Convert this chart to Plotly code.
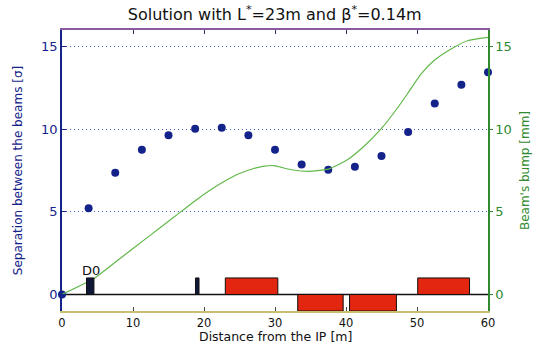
import plotly.graph_objects as go

# ---- data ----
sep_x = [0, 3.75, 7.5, 11.25, 15, 18.75, 22.5, 26.25, 30, 33.75, 37.5, 41.25, 45, 48.75, 52.5, 56.25, 60]
sep_y = [0, 5.22, 7.37, 8.75, 9.63, 10.03, 10.09, 9.63, 8.75, 7.87, 7.55, 7.72, 8.38, 9.83, 11.55, 12.69, 13.45]

bump_x = [0, 4.5, 8, 12, 16, 19, 21, 23, 25, 27, 28.5, 29.8, 30.8, 32.5, 34.7, 36,
          37.6, 40.2, 42.5, 44.9, 47.2, 48.9, 50.5, 52.4, 54.8, 57.1, 60]
bump_y = [0, 0.96, 2.12, 3.44, 4.76, 5.75, 6.35, 6.88, 7.32, 7.62, 7.76, 7.8, 7.7, 7.53, 7.45, 7.49,
          7.6, 8.15, 8.95, 10.0, 11.25, 12.3, 13.3, 14.15, 14.85, 15.35, 15.55]

mag_x0 = [3.45, 18.8, 23.0, 33.2, 40.5, 50.1]
mag_x1 = [4.5, 19.3, 30.4, 39.6, 47.1, 57.4]
mag_y0 = [0, 0, 0, -1, -1, 0]
mag_y1 = [1, 1, 1, 0, 0, 1]
mag_col = ["#101838", "#101838", "#e3260f", "#e3260f", "#e3260f", "#e3260f"]

x_ticks = [0, 10, 20, 30, 40, 50, 60]
y_ticks = [0, 5, 10, 15]

NAVY = "#14238a"
GREEN = "#2f8a2f"
FONT = "DejaVu Sans, Liberation Sans, Arial, sans-serif"

fig = go.Figure()

# magnets
for x0, x1, y0, y1, c in zip(mag_x0, mag_x1, mag_y0, mag_y1, mag_col):
    fig.add_shape(type="rect", xref="x", yref="y", x0=x0, x1=x1, y0=y0, y1=y1,
                  fillcolor=c, line=dict(color="#111111", width=1), layer="above")

# beam line
fig.add_trace(go.Scatter(x=[x_ticks[0], x_ticks[-1]], y=[0, 0], mode="lines",
                         line=dict(color="#111111", width=1.5), showlegend=False, hoverinfo="skip"))

# bump curve (right axis)
fig.add_trace(go.Scatter(x=bump_x, y=bump_y, mode="lines", yaxis="y2",
                         line=dict(color="#62b84a", width=1.2, shape="spline", smoothing=0.5),
                         showlegend=False))

# separation dots
fig.add_trace(go.Scatter(x=sep_x, y=sep_y, mode="markers", cliponaxis=False,
                         marker=dict(color=NAVY, size=8), showlegend=False))

fig.add_annotation(x=4.1, y=1.0, xref="x", yref="y", text="D0", showarrow=False,
                   yanchor="bottom", yshift=-2, font=dict(family=FONT, size=13, color="#111111"))

# x-axis title as annotation for exact placement
fig.add_annotation(x=0.5, y=0, xref="paper", yref="paper", text="Distance from the IP [m]",
                   showarrow=False, yanchor="top", yshift=-17, borderpad=0,
                   font=dict(family=FONT, size=12.5, color="#111111"))

fig.update_layout(
    width=544, height=344,
    margin=dict(l=62, r=56, t=30, b=33),
    paper_bgcolor="white", plot_bgcolor="white",
    font=dict(family=FONT, size=12, color="#111111"),
    title=dict(text="Solution with L<sup>*</sup>=23m and β<sup>*</sup>=0.14m",
               x=0.505, xanchor="center", y=1 - 14 / 344, yref="container", yanchor="middle",
               font=dict(family=FONT, size=16, color="#111111")),
    xaxis=dict(range=[0, 60], tickvals=x_ticks, showgrid=False, zeroline=False, automargin=False,
               showline=True, linecolor="#c8c070", linewidth=1.5,
               ticks="inside", ticklen=4, tickcolor="#444444",
               tickfont=dict(size=11.5, color="#111111")),
    xaxis2=dict(range=[0, 60], tickvals=x_ticks, overlaying="x", side="top", matches="x",
                showgrid=False, zeroline=False, showline=True, linecolor="#8a5aa0", linewidth=1.5,
                automargin=False,
                ticks="inside", ticklen=4, tickcolor="#333366", showticklabels=False),
    yaxis=dict(range=[-1, 16], tickvals=y_ticks, zeroline=False, automargin=False,
               showgrid=True, gridcolor="#4060d0", griddash="1px,3px", gridwidth=1,
               showline=True, linecolor=NAVY, linewidth=1.5,
               ticks="inside", ticklen=4, tickcolor=NAVY,
               tickfont=dict(size=13, color=NAVY),
               title=dict(text="Separation between the beams [σ]", standoff=16,
                          font=dict(size=12, color=NAVY))),
    yaxis2=dict(range=[-1, 16], tickvals=y_ticks, overlaying="y", side="right",
                zeroline=False, showgrid=False, automargin=False,
                showline=True, linecolor=GREEN, linewidth=1.5,
                ticks="outside", ticklen=3, tickcolor=GREEN,
                tickfont=dict(size=13, color=GREEN),
                title=dict(text="Beam's bump [mm]", standoff=10,
                           font=dict(size=12, color=GREEN))),
)

# invisible trace to activate top axis
fig.add_trace(go.Scatter(x=[0], y=[0], xaxis="x2", mode="markers", marker=dict(opacity=0),
                         showlegend=False, hoverinfo="skip"))

fig.write_html("out.html", config={"displayModeBar": False},
               post_script="document.body.style.margin='0';document.body.style.overflow='hidden';")
